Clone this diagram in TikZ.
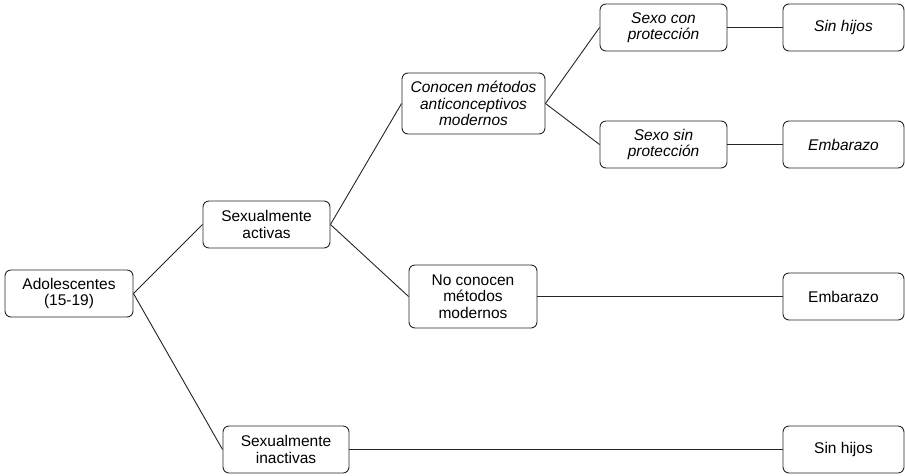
\documentclass[tikz,border=0pt]{standalone}
\usepackage{fontspec}
\setmainfont{Liberation Sans}
\begin{document}
\begin{tikzpicture}[x=1pt,y=-1pt,
  box/.style={draw=black!85, line width=0.9pt, rounded corners=6pt, fill=white,
    align=center, inner sep=0pt, font=\fontsize{15.5}{16.5}\selectfont},
  itbox/.style={box, font=\fontsize{15.5}{16.5}\selectfont\itshape},
  link/.style={draw=black!85, line width=0.9pt}]
  \useasboundingbox (0,0) rectangle (905,475);
  % first level
  \node[box, minimum width=128pt, minimum height=47pt] (ado) at (69,293.5) {Adolescentes\\(15-19)};
  % second level
  \node[box, minimum width=127pt, minimum height=47pt] (act) at (266.5,224.5) {Sexualmente\\activas};
  \node[box, minimum width=126pt, minimum height=47pt] (inact) at (286,449.5) {Sexualmente\\inactivas};
  % third level
  \node[itbox, minimum width=143pt, minimum height=61pt] (con) at (473.5,103.5) {Conocen métodos\\anticonceptivos\\modernos};
  \node[box, minimum width=128pt, minimum height=63pt] (nocon) at (473,296.5) {No conocen\\métodos\\modernos};
  % fourth level
  \node[itbox, minimum width=127pt, minimum height=47pt] (sexcon) at (663.5,27.5) {Sexo con\\protección};
  \node[itbox, minimum width=127pt, minimum height=47pt] (sexsin) at (663.5,144.5) {Sexo sin\\protección};
  % outcomes
  \node[itbox, minimum width=121pt, minimum height=47pt] (sh1) at (843.5,27.5) {Sin hijos};
  \node[itbox, minimum width=121pt, minimum height=47pt] (em1) at (843.5,144.5) {Embarazo};
  \node[box, minimum width=121pt, minimum height=47pt] (em2) at (843.5,296.5) {Embarazo};
  \node[box, minimum width=121pt, minimum height=47pt] (sh2) at (843.5,449.5) {Sin hijos};
  % connectors
  \draw[link] (ado.east) -- (act.west);
  \draw[link] (ado.east) -- (inact.west);
  \draw[link] (act.east) -- (con.west);
  \draw[link] (act.east) -- (nocon.west);
  \draw[link] (con.east) -- (sexcon.west);
  \draw[link] (con.east) -- (sexsin.west);
  \draw[link] (sexcon.east) -- (sh1.west);
  \draw[link] (sexsin.east) -- (em1.west);
  \draw[link] (nocon.east) -- (em2.west);
  \draw[link] (inact.east) -- (sh2.west);
\end{tikzpicture}
\end{document}
